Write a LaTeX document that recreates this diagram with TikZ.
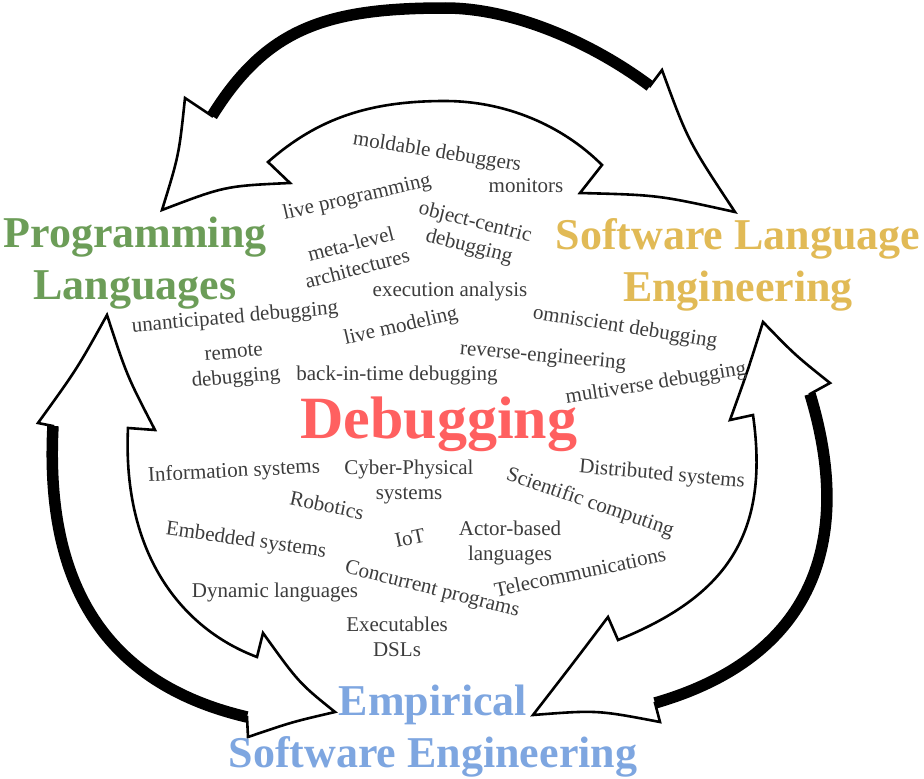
\documentclass[tikz,border=0pt]{standalone}
\usepackage{fontspec}
\setmainfont{Liberation Serif}
\definecolor{plgreen}{RGB}{108,157,88}
\definecolor{slegold}{RGB}{225,186,86}
\definecolor{eseblue}{RGB}{126,166,224}
\definecolor{dbgred}{RGB}{255,96,96}
\definecolor{kwgray}{RGB}{60,60,60}
\tikzset{
  outline/.style={draw=black, fill=white, line width=2.6pt, line join=miter, miter limit=12},
  band/.style={draw=black, line width=11.5pt},
  title/.style={font=\fontsize{44}{52.5}\selectfont\bfseries, align=center, inner sep=0pt},
  kw/.style={font=\fontsize{21}{25}\selectfont, text=kwgray, align=center, inner sep=0pt},
}
\begin{document}
\begin{tikzpicture}[x=1pt,y=-1pt]
\useasboundingbox (0,0) rectangle (924,779);

% ---- top double arrow: Programming Languages <-> Software Language Engineering
\path[outline] (212,116) -- (185,98)
  .. controls (179,155) .. (162,210)
  .. controls (225,186) .. (290,183)
  -- (268,162)
  .. controls (318,118) and (370,101) .. (445,101)
  .. controls (505,101) and (562,125) .. (602,165)
  -- (580,193)
  .. controls (658,195) .. (735,212)
  .. controls (688,141) .. (662,70)
  -- (650,86)
  .. controls (594,44) and (515,8) .. (445,8)
  .. controls (325,8) and (266,29) .. (212,116)
  -- cycle;
\draw[band] (650,86) .. controls (594,44) and (515,8) .. (445,8)
  .. controls (325,8) and (266,29) .. (212,116);

% ---- left double arrow: Programming Languages <-> Empirical Software Engineering
\path[outline] (53,426) -- (38,423)
  .. controls (77,369) .. (107,315)
  .. controls (127,376) .. (155,430)
  -- (128,428)
  .. controls (122,558) and (185,630) .. (257,657)
  -- (263,633)
  .. controls (299,683) .. (335,712)
  .. controls (292,722) .. (248,737)
  -- (247,717)
  .. controls (115,686) and (44,596) .. (53,426)
  -- cycle;
\draw[band] (247,717) .. controls (115,686) and (44,596) .. (53,426);

% ---- right double arrow: Software Language Engineering <-> Empirical Software Engineering
\path[outline] (810,394) -- (830,383)
  .. controls (795,355) .. (763,322)
  .. controls (748,370) .. (730,420)
  -- (753,415)
  .. controls (770.5,537.5) and (723,597.5) .. (618,640)
  -- (608,617)
  .. controls (574,662) .. (533,715)
  .. controls (597,710) .. (660,722)
  -- (655,703)
  .. controls (812.5,657.5) and (855,542.5) .. (810,394)
  -- cycle;
\draw[band] (655,703) .. controls (812.5,657.5) and (855,542.5) .. (810,394);

% ---- field titles
\node[title, text=plgreen] (pl) at (135,263) {Programming\\Languages};
\node[title, text=slegold] (sle) at (738,265) {Software Language\\Engineering};
\node[title, text=eseblue] (ese) at (433,731) {Empirical\\Software Engineering};
\node[font=\fontsize{60}{72}\selectfont\bfseries, text=dbgred, inner sep=0pt, anchor=base] (dbg) at (439,438) {Debugging};

% ---- techniques (upper half)
\node[kw, rotate=-9] (k1) at (437,153) {moldable debuggers};
\node[kw] (k2) at (526,186) {monitors};
\node[kw, rotate=13] (k3) at (357,198) {live programming};
\node[kw, rotate=-14] (k4) at (472,235) {object-centric\\debugging};
\node[kw, rotate=14.5] (k5) at (354,256) {meta-level\\architectures};
\node[kw] (k6) at (450,291) {execution analysis};
\node[kw, rotate=5] (k7) at (235,318) {unanticipated debugging};
\node[kw, rotate=13] (k8) at (401,327) {live modeling};
\node[kw, rotate=-9] (k9) at (625,328) {omniscient debugging};
\node[kw, rotate=5] (k10) at (235,367) {remote\\debugging};
\node[kw] (k11) at (397,375) {back-in-time debugging};
\node[kw, rotate=-5] (k12) at (543,357) {reverse-engineering};
\node[kw, rotate=9] (k13) at (656,384) {multiverse debugging};

% ---- application domains (lower half)
\node[kw, rotate=3] (a1) at (234,472) {Information systems};
\node[kw] (a2) at (409,482) {Cyber-Physical\\systems};
\node[kw, rotate=-12] (a3) at (327,505) {Robotics};
\node[kw, rotate=-8] (a4) at (246,541) {Embedded systems};
\node[kw, rotate=12] (a5) at (410,538) {IoT};
\node[kw] (a6) at (510,543) {Actor-based\\languages};
\node[kw, rotate=-5] (a7) at (662,475) {Distributed systems};
\node[kw, rotate=-19] (a8) at (590,503) {Scientific computing};
\node[kw, rotate=12] (a9) at (580,572) {Telecommunications};
\node[kw, rotate=-14] (a10) at (432,590) {Concurrent programs};
\node[kw] (a11) at (275,592) {Dynamic languages};
\node[kw] (a12) at (397,637) {Executables\\DSLs};
\end{tikzpicture}
\end{document}
